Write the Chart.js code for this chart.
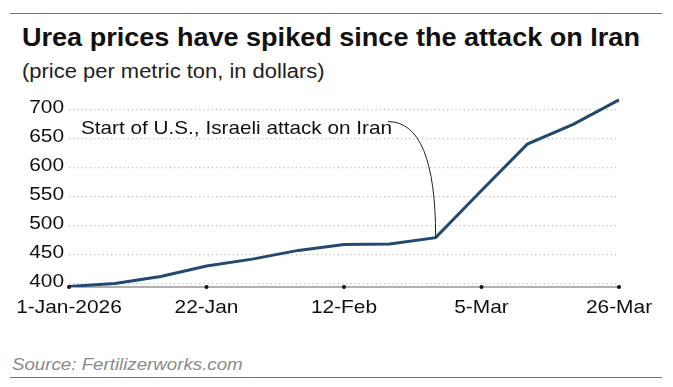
<!DOCTYPE html>
<html>
<head>
<meta charset="utf-8">
<script src="https://cdn.jsdelivr.net/npm/chart.js@4"></script>
<style>
  body { margin:0; background:#fff; font-family:"Liberation Sans", Arial, sans-serif; }
  #wrap { position:relative; width:673px; height:387px; overflow:hidden; }
  .rule { position:absolute; left:10px; width:652px; height:0; border-top:1.5px solid #777; }
  .txt { position:absolute; white-space:nowrap; transform-origin:0 0; }
  #title { left:22px; top:22px; font-size:26px; font-weight:bold; color:#111; }
  #sub { left:22px; top:60px; font-size:20px; color:#222; }
  #source { left:12px; top:355px; font-size:17px; font-style:italic; color:#8a8a8a; }
  #chartBox { position:absolute; left:0; top:90px; width:673px; height:240px; }
</style>
</head>
<body>
<div id="wrap">
  <div class="rule" style="top:13px"></div>
  <div class="txt" id="title" data-w="618">Urea prices have spiked since the attack on Iran</div>
  <div class="txt" id="sub" data-w="303">(price per metric ton, in dollars)</div>
  <div id="chartBox"><canvas id="c" width="673" height="240"></canvas></div>
  <div class="txt" id="source" data-w="231">Source: Fertilizerworks.com</div>
  <div class="rule" style="top:377px"></div>
</div>
<script>
// weekly urea prices, $ per metric ton
const weeks = ['1-Jan-2026','8-Jan','15-Jan','22-Jan','29-Jan','5-Feb','12-Feb','19-Feb','26-Feb','5-Mar','12-Mar','19-Mar','26-Mar'];
const prices = [395, 400, 412, 430, 442, 457, 467, 468, 479, 560, 640, 674, 716];
const yTicks = [400, 450, 500, 550, 600, 650, 700];
const shownLabels = [0, 3, 6, 9, 12];
const attackIdx = 8;
const noteText = 'Start of U.S., Israeli attack on Iran';

const FONT = '"Liberation Sans", Arial, sans-serif';
const STRETCH = 1.1; // reference text is a bit wider than Arial

// the reference type is slightly wide, stretch html text to its width
document.querySelectorAll('.txt').forEach(el => {
  const w = +el.dataset.w;
  el.style.transform = 'scaleX(' + (w / el.offsetWidth) + ')';
});

function wideText(ctx, text, x, y, align, sx) {
  const w = ctx.measureText(text).width * sx;
  let left = x;
  if (align === 'center') left = x - w / 2;
  if (align === 'right') left = x - w;
  ctx.save();
  ctx.translate(left, y);
  ctx.scale(sx, 1);
  ctx.textAlign = 'left';
  ctx.fillText(text, 0, 0);
  ctx.restore();
}

const extras = {
  id: 'extras',
  afterDatasetsDraw(chart) {
    const ctx = chart.ctx;
    const xs = chart.scales.x, ys = chart.scales.y;
    const area = chart.chartArea;
    ctx.save();
    ctx.fillStyle = '#111';
    // tick dots + x labels
    ctx.font = '19px ' + FONT;
    ctx.textBaseline = 'alphabetic';
    shownLabels.forEach(i => {
      const x = xs.getPixelForValue(i);
      ctx.beginPath();
      ctx.arc(x, area.bottom, 2, 0, Math.PI * 2);
      ctx.fill();
      wideText(ctx, weeks[i], x, area.bottom + 26, 'center', STRETCH);
    });
    // y labels
    ctx.textBaseline = 'middle';
    yTicks.forEach(v => {
      wideText(ctx, String(v), area.left - 5, ys.getPixelForValue(v) - 1.5, 'right', STRETCH);
    });
    // annotation text + curved leader
    ctx.font = '18.5px ' + FONT;
    ctx.textBaseline = 'alphabetic';
    const tx = area.left + 12, ty = area.top + 36;
    const sx = 311 / ctx.measureText(noteText).width;
    wideText(ctx, noteText, tx, ty, 'left', sx);
    const px = xs.getPixelForValue(attackIdx), py = ys.getPixelForValue(prices[attackIdx]);
    const sxp = tx + 311 - 4, syp = ty - 12;
    ctx.beginPath();
    ctx.moveTo(sxp, syp);
    ctx.quadraticCurveTo(px, syp, px, py);
    ctx.strokeStyle = '#222';
    ctx.lineWidth = 1;
    ctx.stroke();
    ctx.restore();
  }
};

new Chart(document.getElementById('c'), {
  type: 'line',
  data: {
    labels: weeks,
    datasets: [{
      data: prices,
      borderColor: '#22496f',
      borderWidth: 3,
      pointRadius: 0,
      tension: 0,
      fill: false
    }]
  },
  options: {
    responsive: false,
    animation: false,
    layout: { padding: { top: 7.6, right: 54, left: 0, bottom: 0 } },
    plugins: { legend: { display: false }, tooltip: { enabled: false } },
    scales: {
      x: {
        type: 'category',
        offset: false,
        grid: { display: false },
        border: { display: true, color: '#b0b0b0', width: 2 },
        ticks: { display: false },
        afterFit: s => { s.height = 43; s.paddingLeft = 0; s.paddingRight = 0; }
      },
      y: {
        min: 394,
        max: 720,
        afterBuildTicks: s => { s.ticks = yTicks.map(v => ({ value: v })); },
        grid: { color: '#bdbdbd', lineWidth: 1.2, drawTicks: false },
        border: { display: false, dash: [1.2, 3] },
        ticks: { display: false },
        afterFit: s => { s.width = 69; s.paddingTop = 0; s.paddingBottom = 0; }
      }
    }
  },
  plugins: [extras]
});
</script>
</body>
</html>
